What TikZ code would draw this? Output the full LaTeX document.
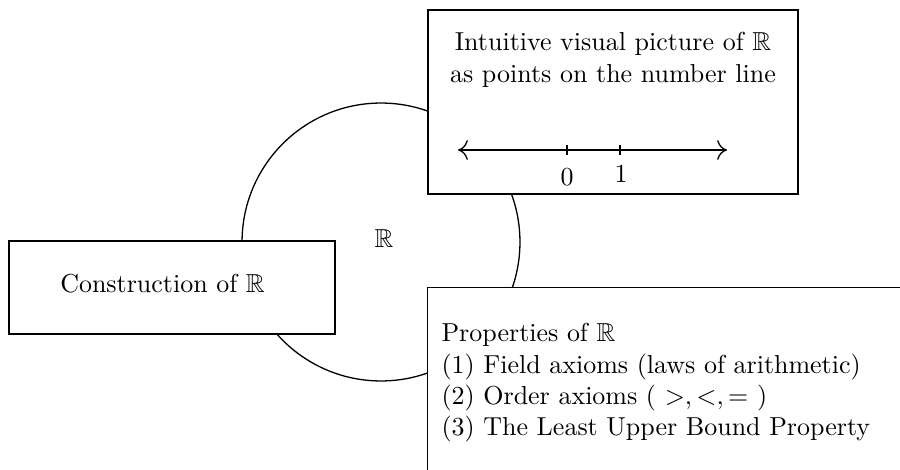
\documentclass[tikz,border=0pt]{standalone}
\usepackage{amssymb}
\usetikzlibrary{arrows.meta}
\begin{document}
\begin{tikzpicture}[x=0.385pt,y=-0.385pt,
  box/.style={draw,fill=white,line width=0.5pt,inner sep=0pt},
  txt/.style={inner sep=0pt,font=\normalsize},
  numtip/.tip={Computer Modern Rightarrow[width=7.6pt,length=3.8pt]}]
\useasboundingbox (0,0) rectangle (900,470);
% central disc
\node[draw,circle,line width=0.5pt,minimum size=107pt,inner sep=0pt] (disc) at (381,242) {};
\node[txt] (rlabel) at (384,239) {$\mathbb{R}$};
% top box
\node[box,minimum width=142.4pt,minimum height=70.8pt] (visual) at (613,102) {};
\node[txt,align=center] (visualtext) at (613,60) {Intuitive visual picture of $\mathbb{R}$\\[0.3pt]as points on the number line};
\coordinate (nlL) at (458,150);
\coordinate (nlR) at (727,150);
\coordinate (t0) at (567,150);
\coordinate (t1) at (620,150);
\draw[{numtip}-{numtip},line width=0.5pt] (nlL) -- (nlR);
\draw[line width=0.5pt] ([yshift=2pt]t0) -- ([yshift=-2pt]t0);
\draw[line width=0.5pt] ([yshift=2pt]t1) -- ([yshift=-2pt]t1);
\node[txt] (l0) at (567,177) {$0$};
\node[txt] (l1) at (621,174) {$1$};
% left box
\node[box,minimum width=125.5pt,minimum height=35.8pt] (constr) at (172,287.5) {};
\node[txt] (constrtext) at (162.5,284) {Construction of $\mathbb{R}$};
% bottom right box (runs off the page)
\begin{scope}
\clip (0,0) rectangle (900,470);
\node[box,anchor=north west,minimum width=220pt,minimum height=90pt] (props) at (427,287) {};
\end{scope}
\node[txt,align=left,anchor=north west] (propstext) at (441,323) {Properties of $\mathbb{R}$\\
(1) Field axioms (laws of arithmetic)\\
(2) Order axioms ( $>,<,=$ )\\
(3) The Least Upper Bound Property};
\end{tikzpicture}
\end{document}
